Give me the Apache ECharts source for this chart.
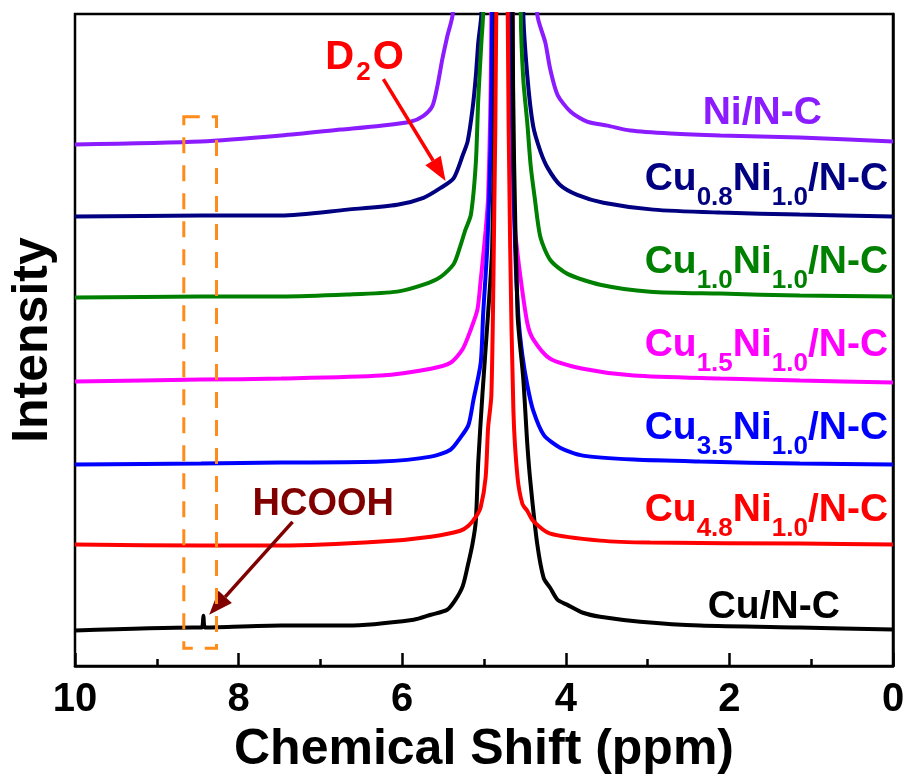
<!DOCTYPE html>
<html>
<head>
<meta charset="utf-8">
<script src="https://cdn.jsdelivr.net/npm/echarts@6/dist/echarts.min.js"></script>
<style>
  html, body { margin: 0; padding: 0; background: #ffffff; }
  #chart { width: 909px; height: 780px; }
</style>
</head>
<body>
<div id="chart"></div>
<script>
// 1H NMR spectra, stacked with vertical offsets (intensity in arbitrary units).
// Each series: [chemical shift (ppm), intensity]. The D2O residual peak near 4.79 ppm runs off scale.
const xTickValues = [10, 8, 6, 4, 2, 0];

const niNC = [
  [10.0, 528], [8.46, 531], [7.48, 537], [6.75, 543], [6.26, 547], [5.90, 551], [5.74, 557],
  [5.63, 567], [5.57, 587], [5.51, 614], [5.45, 637], [5.38, 662],
  [4.79, 6000],
  [4.35, 661], [4.25, 631], [4.19, 604], [4.10, 578], [3.94, 561], [3.74, 551],
  [3.49, 547], [3.21, 542], [2.72, 539], [2.11, 537], [1.14, 535], [0.0, 531]
];
const cu08Ni10 = [
  [10.0, 455], [8.46, 456], [7.48, 456], [6.67, 462], [6.06, 467], [5.74, 474], [5.53, 484],
  [5.37, 494], [5.26, 517], [5.20, 531], [5.14, 564], [5.10, 597], [5.07, 631], [5.03, 663],
  [4.79, 6000],
  [4.52, 664], [4.47, 597], [4.40, 547], [4.31, 521], [4.22, 504], [4.07, 487], [3.86, 477],
  [3.54, 469], [2.93, 462], [2.11, 459], [1.14, 457], [0.0, 455]
];
const cu10Ni10 = [
  [10.0, 373], [8.46, 374], [7.48, 374], [6.67, 376], [6.06, 379], [5.74, 386], [5.53, 394],
  [5.37, 407], [5.29, 425], [5.23, 441], [5.16, 457], [5.10, 509], [5.07, 574], [5.03, 634],
  [5.01, 662],
  [4.79, 6000],
  [4.55, 661], [4.52, 594], [4.47, 549], [4.43, 507], [4.38, 474], [4.31, 434], [4.19, 411],
  [3.98, 397], [3.58, 386], [2.97, 379], [2.11, 377], [1.14, 375], [0.0, 374]
];
const cu15Ni10 = [
  [10.0, 288], [8.46, 290], [7.48, 291], [6.26, 294], [5.65, 301], [5.41, 307], [5.26, 321],
  [5.16, 341], [5.08, 361], [5.04, 391], [5.02, 407], [4.98, 441], [4.95, 474], [4.92, 574],
  [4.91, 662],
  [4.79, 6000],
  [4.65, 662], [4.64, 474], [4.62, 441], [4.55, 391], [4.47, 347], [4.40, 331], [4.19, 311],
  [3.79, 301], [3.17, 294], [2.11, 291], [1.14, 289], [0.0, 287]
];
const cu35Ni10 = [
  [10.0, 204], [8.46, 205], [7.48, 206], [6.26, 207], [5.65, 212], [5.41, 219], [5.29, 231],
  [5.19, 244], [5.13, 269], [5.04, 307], [5.01, 357], [4.96, 424], [4.92, 524], [4.90, 662],
  [4.79, 6000],
  [4.68, 662], [4.62, 424], [4.58, 354], [4.53, 314], [4.47, 284], [4.40, 259], [4.27, 234],
  [4.07, 221], [3.79, 213], [3.17, 209], [2.36, 207], [1.14, 205], [0.0, 204]
];
const cu48Ni10 = [
  [10.0, 123], [8.46, 122], [7.48, 122], [6.26, 126], [5.65, 131], [5.29, 137], [5.19, 142],
  [5.10, 151], [5.04, 161], [4.98, 191], [4.95, 241], [4.91, 274], [4.88, 424], [4.85, 662],
  [4.79, 6000],
  [4.71, 662], [4.68, 424], [4.64, 257], [4.59, 191], [4.53, 164], [4.47, 157], [4.40, 147],
  [4.19, 134], [3.58, 127], [2.97, 125], [1.14, 124], [0.0, 123]
];
const cuNC = [
  [10.0, 36], [8.55, 39], [8.45, 39], [8.43, 51], [8.41, 39], [7.48, 41], [6.67, 41],
  [5.86, 47], [5.65, 52], [5.45, 57], [5.35, 67], [5.26, 81], [5.20, 101], [5.14, 124],
  [5.10, 147], [5.07, 207], [5.02, 274], [4.95, 357], [4.90, 424], [4.86, 662],
  [4.79, 6000],
  [4.65, 662], [4.59, 357], [4.52, 291], [4.47, 224], [4.43, 184], [4.35, 124], [4.27, 89],
  [4.19, 79], [4.10, 67], [3.98, 62], [3.79, 54], [3.58, 50], [3.09, 45], [2.36, 41],
  [1.14, 39], [0.0, 37]
];

// Draw order (last on top) and colours.
const spectra = [
  { name: 'Ni/N-C', data: niNC, color: '#8a1cff' },
  { name: 'Cu0.8Ni1.0/N-C', data: cu08Ni10, color: '#000080' },
  { name: 'Cu1.0Ni1.0/N-C', data: cu10Ni10, color: '#008000' },
  { name: 'Cu1.5Ni1.0/N-C', data: cu15Ni10, color: '#ff00ff' },
  { name: 'Cu3.5Ni1.0/N-C', data: cu35Ni10, color: '#0000ff' },
  { name: 'Cu/N-C', data: cuNC, color: '#000000' },
  { name: 'Cu4.8Ni1.0/N-C', data: cu48Ni10, color: '#ff0000' }
];

// Sample labels, anchored (right edge, text middle) in data coordinates.
const sampleLabels = [
  { cu: null, ni: null, text: 'Ni/N-C', ppm: 0.87, y: 563, color: '#8a1cff' },
  { cu: '0.8', ni: '1.0', ppm: 0.06, y: 496, color: '#000080' },
  { cu: '1.0', ni: '1.0', ppm: 0.06, y: 412, color: '#008000' },
  { cu: '1.5', ni: '1.0', ppm: 0.06, y: 328, color: '#ff00ff' },
  { cu: '3.5', ni: '1.0', ppm: 0.06, y: 244, color: '#0000ff' },
  { cu: '4.8', ni: '1.0', ppm: 0.06, y: 161, color: '#ff0000' },
  { cu: null, ni: null, text: 'Cu/N-C', ppm: 0.65, y: 63, color: '#000000' }
];

const FONT = '"Liberation Sans", Arial, Helvetica, sans-serif';

const chart = echarts.init(document.getElementById('chart'), null, { renderer: 'canvas' });

const option = {
  animation: false,
  backgroundColor: '#ffffff',
  grid: {
    left: 74, right: 16, top: 14, bottom: 106,
    show: true, borderColor: '#000000', borderWidth: 2.5, backgroundColor: 'transparent'
  },
  xAxis: {
    type: 'value', min: 0, max: 10, interval: 2, inverse: true,
    name: 'Chemical Shift (ppm)', nameLocation: 'middle', nameGap: 43,
    nameTextStyle: { fontFamily: FONT, fontWeight: 'bold', fontSize: 50, color: '#000' },
    axisLine: { show: true, onZero: false, lineStyle: { color: '#000', width: 2.5 } },
    axisTick: { show: true, inside: true, length: 13, lineStyle: { color: '#000', width: 2.5 } },
    minorTick: { show: true, splitNumber: 2, length: 7, lineStyle: { color: '#000', width: 2.5 } },
    axisLabel: {
      margin: 14, fontFamily: FONT, fontWeight: 'bold', fontSize: 40, color: '#000',
      customValues: xTickValues
    },
    splitLine: { show: false }
  },
  yAxis: {
    type: 'value', min: 0, max: 660,
    name: 'Intensity', nameLocation: 'middle', nameGap: 17,
    nameTextStyle: { fontFamily: FONT, fontWeight: 'bold', fontSize: 50, color: '#000' },
    axisLine: { show: true, lineStyle: { color: '#000', width: 2.5 } },
    axisTick: { show: false },
    axisLabel: { show: false },
    splitLine: { show: false }
  },
  series: spectra.map(s => ({
    name: s.name,
    type: 'line',
    data: s.data,
    showSymbol: false,
    symbol: 'none',
    clip: true,
    smooth: 0.25,
    lineStyle: { color: s.color, width: 4 },
    itemStyle: { color: s.color },
    emphasis: { disabled: true }
  }))
};

chart.setOption(option);

function px(ppm, val) {
  return chart.convertToPixel({ gridIndex: 0 }, [ppm, val]);
}

function arrow(from, to, color, width, headLen, headW) {
  const a = px(from[0], from[1]);
  const b = px(to[0], to[1]);
  const dx = b[0] - a[0], dy = b[1] - a[1];
  const len = Math.sqrt(dx * dx + dy * dy);
  const ux = dx / len, uy = dy / len;
  const bx = b[0] - ux * headLen, by = b[1] - uy * headLen;
  return [
    { type: 'line', shape: { x1: a[0], y1: a[1], x2: bx, y2: by },
      style: { stroke: color, lineWidth: width }, z: 20 },
    { type: 'polygon',
      shape: { points: [[b[0], b[1]], [bx - uy * headW / 2, by + ux * headW / 2], [bx + uy * headW / 2, by - ux * headW / 2]] },
      style: { fill: color }, z: 20 }
  ];
}

const LABEL_SIZE = 39;
const SUB_SIZE = 26;

function richLabel(lbl) {
  const main = { fontFamily: FONT, fontWeight: 'bold', fontSize: LABEL_SIZE, lineHeight: LABEL_SIZE, fill: lbl.color, verticalAlign: 'top' };
  const sub = { fontFamily: FONT, fontWeight: 'bold', fontSize: SUB_SIZE, lineHeight: SUB_SIZE, fill: lbl.color, verticalAlign: 'top', padding: [25, 0, 0, 0] };
  const text = lbl.cu
    ? '{m|Cu}{s|' + lbl.cu + '}{m|Ni}{s|' + lbl.ni + '}{m|/N-C}'
    : '{m|' + lbl.text + '}';
  const p = px(lbl.ppm, lbl.y);
  return {
    type: 'text', x: p[0], y: p[1] - LABEL_SIZE / 2 + 3, z: 30,
    style: { text: text, rich: { m: main, s: sub }, align: 'right', verticalAlign: 'top', fill: lbl.color }
  };
}

function buildGraphics() {
  const g = [];
  sampleLabels.forEach(l => g.push(richLabel(l)));

  // D2O label and arrow
  const d = px(6.94, 616);
  g.push({
    type: 'text', x: d[0], y: d[1] - 20, z: 30,
    style: {
      text: '{m|D}{s|2}{m|O}',
      align: 'left', verticalAlign: 'top', fill: '#ff0000',
      rich: {
        m: { fontFamily: FONT, fontWeight: 'bold', fontSize: 40, lineHeight: 40, fill: '#ff0000', verticalAlign: 'top' },
        s: { fontFamily: FONT, fontWeight: 'bold', fontSize: 26, lineHeight: 26, fill: '#ff0000', verticalAlign: 'top', padding: [22, 2, 0, 2] }
      }
    }
  });
  arrow([6.23, 594], [5.47, 491], '#ff0000', 3.5, 24, 18).forEach(e => g.push(e));

  // HCOOH label and arrow
  const h = px(7.83, 164);
  g.push({
    type: 'text', x: h[0], y: h[1], z: 30,
    style: { text: 'HCOOH', align: 'left', verticalAlign: 'middle',
      fontFamily: FONT, fontWeight: 'bold', fontSize: 38, fill: '#800000' }
  });
  arrow([7.34, 146], [8.36, 52], '#800000', 3.5, 24, 18).forEach(e => g.push(e));

  // Dashed box around the formate region
  const r1 = px(8.67, 556);
  const r2 = px(8.27, 18);
  g.push({
    type: 'rect', z: 25,
    shape: { x: r1[0], y: r1[1], width: r2[0] - r1[0], height: r2[1] - r1[1] },
    style: { fill: 'none', stroke: '#ff8c1a', lineWidth: 3, lineDash: [16, 12] }
  });
  return g;
}

chart.setOption({ graphic: buildGraphics() });
</script>
</body>
</html>
